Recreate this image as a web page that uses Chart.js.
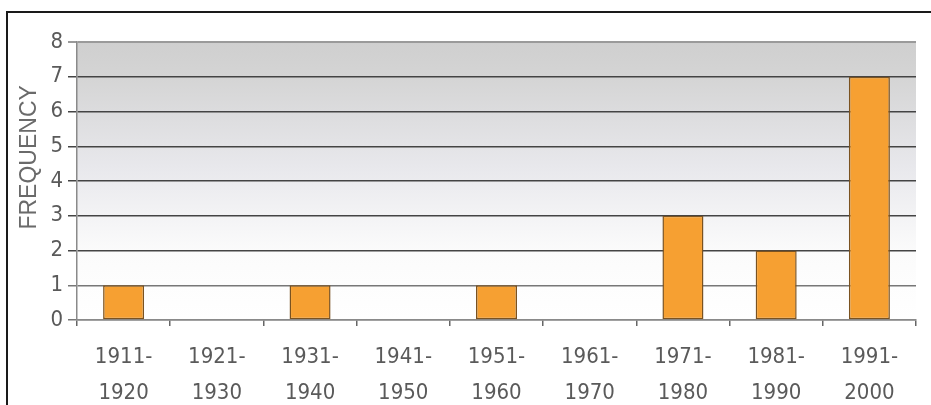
<!DOCTYPE html>
<html>
<head>
<meta charset="utf-8">
<script src="https://cdn.jsdelivr.net/npm/chart.js@4.4.0/dist/chart.umd.min.js"></script>
<style>
  html, body { margin: 0; padding: 0; background: #fff; overflow: hidden; }
  #wrap { position: relative; width: 931px; height: 405px; }
  #frame {
    position: absolute; left: 6px; top: 11px; width: 1000px; height: 1000px;
    border: 2px solid #1a1a1a; pointer-events: none;
  }
</style>
</head>
<body>
<div id="wrap">
  <canvas id="chart" width="931" height="405"></canvas>
  <div id="frame"></div>
</div>
<script>
const decades = [
  ['1911-', '1920'], ['1921-', '1930'], ['1931-', '1940'],
  ['1941-', '1950'], ['1951-', '1960'], ['1961-', '1970'],
  ['1971-', '1980'], ['1981-', '1990'], ['1991-', '2000'],
]
const frequency = [1, 0, 1, 0, 1, 0, 3, 2, 7]
const yTicks = [0, 1, 2, 3, 4, 5, 6, 7, 8]

// 'condensed' goes in the weight slot so it lands before the size in the font string
const narrow = { family: "'DejaVu Sans', sans-serif", weight: 'condensed' }

// grey-to-white band behind the bars
const backdrop = {
  id: 'backdrop',
  beforeDraw: chart => {
    const { ctx, chartArea: a } = chart
    const g = ctx.createLinearGradient(0, a.top, 0, a.bottom)
    g.addColorStop(0, '#cfcfcf')
    g.addColorStop(0.12, '#d4d4d4')
    g.addColorStop(0.45, '#e8e8ec')
    g.addColorStop(0.75, '#fbfbfb')
    g.addColorStop(1, '#ffffff')
    ctx.save()
    ctx.fillStyle = g
    ctx.fillRect(a.left, a.top, a.right - a.left, a.bottom - a.top)
    ctx.restore()
  },
}

// axis title sits a bit above the middle in the original
const yTitle = {
  id: 'yTitle',
  afterDraw: chart => {
    const { ctx, chartArea: a } = chart
    ctx.save()
    ctx.translate(a.left - 47, a.top + (a.bottom - a.top) * 0.415)
    ctx.rotate(-Math.PI / 2)
    ctx.fillStyle = '#6a6a6a'
    ctx.font = "23px 'Liberation Sans', Arial, sans-serif"
    ctx.textAlign = 'center'
    ctx.textBaseline = 'middle'
    ctx.fillText('FREQUENCY', 0, 0)
    ctx.restore()
  },
}

const ctx = document.getElementById('chart').getContext('2d')

const chart = new Chart(ctx, {
  type: 'bar',
  data: {
    labels: decades,
    datasets: [
      {
        data: frequency,
        backgroundColor: '#f6a032',
        borderColor: '#7a5220',
        borderWidth: 1.5,
        borderSkipped: false,
        categoryPercentage: 1,
        barPercentage: 0.44,
      },
    ],
  },
  options: {
    responsive: false,
    animation: false,
    layout: { padding: { top: 42, right: 15, left: 0, bottom: 0 } },
    plugins: {
      legend: { display: false },
      tooltip: { enabled: false },
      title: { display: false },
    },
    scales: {
      x: {
        offset: true,
        grid: {
          offset: true,
          drawOnChartArea: false,
          drawTicks: true,
          tickLength: 6,
          tickColor: '#666',
          lineWidth: 1.5,
        },
        border: { color: '#8a8a8a', width: 1.5 },
        ticks: {
          color: '#5a5a5a',
          font: { ...narrow, size: 22, lineHeight: 1.65 },
          padding: 13,
          maxRotation: 0,
          autoSkip: false,
        },
        afterFit: scale => { scale.height = 85 },
      },
      y: {
        min: 0,
        max: 8,
        afterBuildTicks: scale => {
          scale.ticks = yTicks.map(v => ({ value: v }))
        },
        grid: {
          color: c => (c.tick.value === 8 ? '#9a9a9a' : c.tick.value <= 1 ? '#777' : '#444'),
          lineWidth: c => (c.tick.value === 8 ? 2 : 1.5),
          drawTicks: true,
          tickLength: 9,
        },
        border: { color: '#8a8a8a', width: 1.5 },
        ticks: {
          color: '#5a5a5a',
          font: { ...narrow, size: 22 },
          padding: 5,
        },
        afterFit: scale => { scale.width = 77 },
      },
    },
  },
  plugins: [backdrop, yTitle],
})
</script>
</body>
</html>
